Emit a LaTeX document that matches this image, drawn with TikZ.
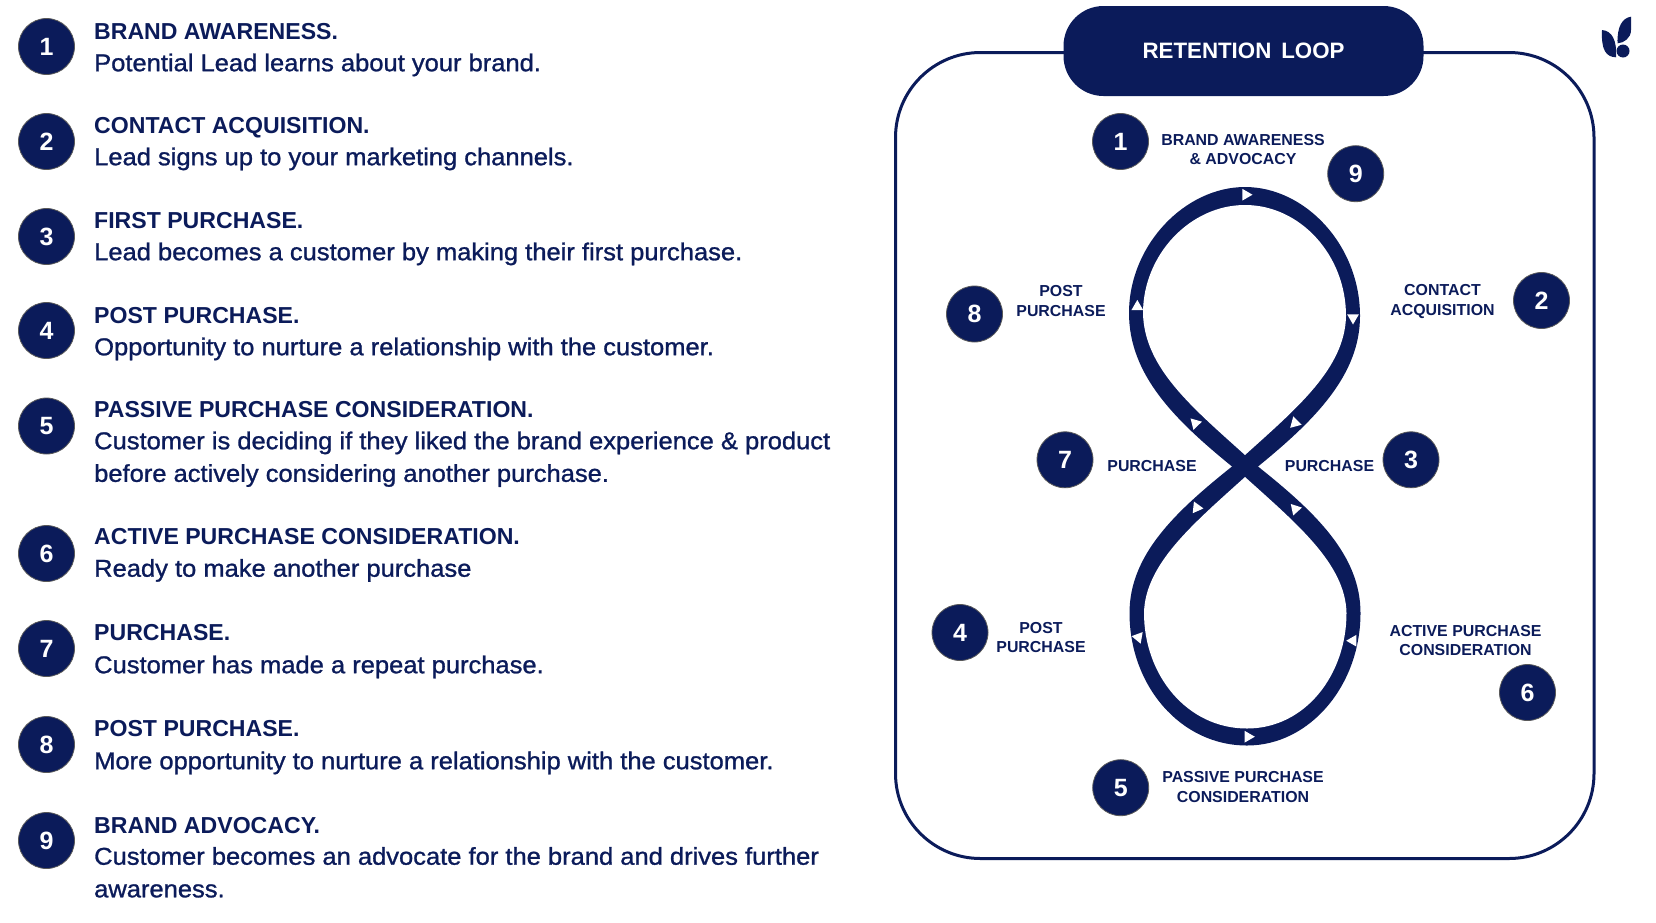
\documentclass[tikz,border=0pt]{standalone}
\usepackage{fontspec}
\setmainfont{Liberation Sans}
\newfontfamily\medfont[FakeBold=1.1,FakeStretch=1.05]{Liberation Sans}
\usetikzlibrary{positioning}
\definecolor{navy}{HTML}{0B1B5A}
\tikzset{
  badge/.style={circle,fill=navy,draw=black!65,line width=0.8pt,minimum size=56pt,inner sep=0pt,text=white,font=\fontsize{25}{25}\selectfont\bfseries},
  headline/.style={anchor=base west,inner sep=0pt,text=navy,font=\fontsize{23.1}{28}\selectfont\bfseries},
  bodyline/.style={anchor=north west,align=left,inner sep=0pt,text=navy,font=\fontsize{24.3}{32.6}\medfont},
  looplabel/.style={align=center,inner sep=0pt,text=navy,font=\fontsize{15.9}{19.5}\selectfont\bfseries},
  tipmark/.style={fill=white,draw=none}
}
\begin{document}
\begin{tikzpicture}[x=1pt,y=-1pt]
  \useasboundingbox (0,0) rectangle (1656,922);
  % legend on the left
  \foreach \n/\y/\hy/\by/\head/\txt in {
    1/46.5/39.5/53.4/BRAND AWARENESS./{Potential Lead learns about your brand.},
    2/141.5/133/147.4/CONTACT ACQUISITION./{Lead signs up to your marketing channels.},
    3/236.5/228.5/242.4/FIRST PURCHASE./{Lead becomes a customer by making their first purchase.},
    4/330.5/323.5/337.4/POST PURCHASE./{Opportunity to nurture a relationship with the customer.},
    5/426/417.5/431.4/PASSIVE PURCHASE CONSIDERATION./{Customer is deciding if they liked the brand experience \& product\\before actively considering another purchase.},
    6/553.5/544/558.9/ACTIVE PURCHASE CONSIDERATION./{Ready to make another purchase},
    7/648.5/640.5/655.4/PURCHASE./{Customer has made a repeat purchase.},
    8/744.5/736.5/751.4/POST PURCHASE./{More opportunity to nurture a relationship with the customer.},
    9/840.5/833.5/846.9/BRAND ADVOCACY./{Customer becomes an advocate for the brand and drives further\\awareness.}}{
    \node[badge] (num\n) at (46.5,\y) {\n};
    \node[headline] (head\n) at (94,\hy) {\head};
    \node[bodyline] (body\n) at (94,\by) {\txt};
  }
  % frame and title
  \draw[navy,line width=3pt,rounded corners=85pt] (1150,52.5) -- (895.5,52.5) -- (895.5,858.5) -- (1594,858.5) -- (1594,52.5) -- (1350,52.5);
  \node[fill=navy,rounded corners=40pt,minimum width=360pt,minimum height=90pt,text=white,font=\fontsize{22.3}{23}\selectfont\bfseries] (title) at (1243.5,51) {RETENTION\, LOOP};
  % the eight: upper teardrop, then lower teardrop
  \fill[navy] (1245,477) -- (1258,466.5)
    .. controls (1315,420) and (1360,375) .. (1360,316)
    .. controls (1360,245) and (1305,187) .. (1245,187)
    .. controls (1185,187) and (1129,245) .. (1129,313)
    .. controls (1129,375) and (1175,420) .. (1232,466.5) -- cycle;
  \fill[white] (1245,455)
    .. controls (1297,408) and (1345,368) .. (1346,316)
    .. controls (1346,255) and (1300,205) .. (1245,205)
    .. controls (1190,205) and (1143,255) .. (1143,313)
    .. controls (1144,368) and (1193,408) .. (1245,455) -- cycle;
  \fill[navy] (1245,455) -- (1258,466.5)
    .. controls (1315,512) and (1360.5,555) .. (1360.5,613)
    .. controls (1360.5,685) and (1310,745.5) .. (1247,745.5)
    .. controls (1180,745.5) and (1129.5,685) .. (1129.5,613)
    .. controls (1129.5,555) and (1175,512) .. (1232,466.5) -- cycle;
  \fill[white] (1245,477)
    .. controls (1297,524) and (1345.5,564) .. (1346.5,613)
    .. controls (1346.5,675) and (1305,728.5) .. (1247,728.5)
    .. controls (1187,728.5) and (1144,675) .. (1144,613)
    .. controls (1145,564) and (1193,524) .. (1245,477) -- cycle;
  % direction marks
  \foreach \x/\y/\a in {1245.7/194.7/0,1353/317.7/90,1295/423/15,1137.3/306.7/-90,1195.3/423.3/-14,
    1196.7/507.7/6,1295.3/509/-12,1138.3/637.3/70,1353/640.7/-60,1248/736.7/0}{
    \fill[tipmark,shift={(\x,\y)}] (\a:6.8) -- (\a+120:6.8) -- (\a+240:6.8) -- cycle;
  }
  % numbered stops
  \foreach \n/\x/\y in {1/1120.5/141.5,9/1355.7/173.7,2/1541.5/300.5,8/974.5/314,7/1065/459.8,3/1411/459.8,4/960/632.5,6/1527.5/692.5,5/1120.7/787.7}{
    \node[badge] (stop\n) at (\x,\y) {\n};
  }
  \node[looplabel] (lab1) at (1243,149.5) {BRAND AWARENESS\\\& ADVOCACY};
  \node[looplabel] (lab8) at (1061,301) {POST\\PURCHASE};
  \node[looplabel] (lab2) at (1442.5,301.5) {CONTACT\\ACQUISITION};
  \node[looplabel] (lab7) at (1152,466.5) {PURCHASE};
  \node[looplabel] (lab3) at (1329.5,466.5) {PURCHASE};
  \node[looplabel] (lab4) at (1041,637.5) {POST\\PURCHASE};
  \node[looplabel] (lab6) at (1465.5,640.5) {ACTIVE PURCHASE\\CONSIDERATION};
  \node[looplabel] (lab5) at (1243,787) {PASSIVE PURCHASE\\CONSIDERATION};
  % leaf mark
  \fill[navy] (1602,30) .. controls (1612,31) and (1617,40) .. (1616,57.3) .. controls (1606,57) and (1601,50) .. (1602,30) -- cycle;
  \fill[navy] (1631,16.7) .. controls (1622,18) and (1617,27) .. (1617.5,43.3) .. controls (1624,43) and (1631,38) .. (1631,30) -- cycle;
  \fill[navy] (1623,51) circle (6.5);
\end{tikzpicture}
\end{document}
